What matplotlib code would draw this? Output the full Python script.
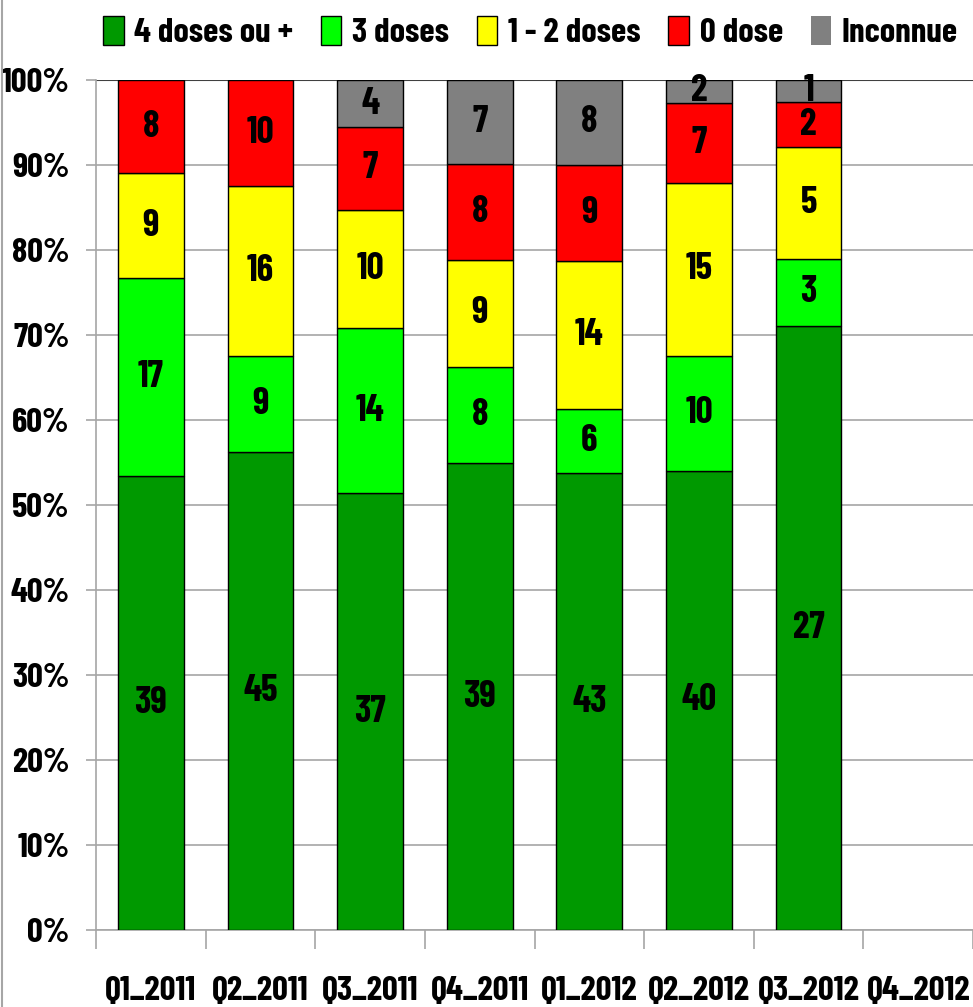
import matplotlib.pyplot as plt
import numpy as np

quarters = ["Q1_2011", "Q2_2011", "Q3_2011", "Q4_2011",
            "Q1_2012", "Q2_2012", "Q3_2012", "Q4_2012"]
doses4 = [39, 45, 37, 39, 43, 40, 27, 0]
doses3 = [17, 9, 14, 8, 6, 10, 3, 0]
doses12 = [9, 16, 10, 9, 14, 15, 5, 0]
doses0 = [8, 10, 7, 8, 9, 7, 2, 0]
inconnue = [0, 0, 4, 7, 8, 2, 1, 0]

series = [("4 doses ou +", doses4, "#009900"),
          ("3 doses", doses3, "#00ff00"),
          ("1 - 2 doses", doses12, "#ffff00"),
          ("0 dose", doses0, "#ff0000"),
          ("Inconnue", inconnue, "#808080")]

plt.rcParams['font.family'] = ['Barlow Condensed', 'Carlito', 'DejaVu Sans']
plt.rcParams['font.weight'] = 'bold'

fig = plt.figure(figsize=(9.73, 10.07), dpi=100)
ax = fig.add_axes([0.0987, 0.0765, 0.9013, 0.8441])

totals = np.array([sum(s[1][i] for s in series) for i in range(len(quarters))], dtype=float)
safe = np.where(totals > 0, totals, 1)
x = np.arange(len(quarters))
bottom = np.zeros(len(quarters))
handles = []
for name, vals, col in series:
    v = np.array(vals, dtype=float)
    pct = v / safe * 100
    lw = np.where(v > 0, 1.0, 0.0)
    b = ax.bar(x, pct, 0.6, bottom=bottom, color=col, edgecolor='black', linewidth=lw, label=name, zorder=3)
    handles.append(b)
    for i in range(len(x)):
        if v[i] > 0:
            ax.text(x[i], bottom[i] + pct[i] / 2, "%d" % v[i], ha='center', va='center',
                    fontsize=27, fontweight='bold', zorder=4)
    bottom += pct

ax.set_xlim(-0.5, len(quarters) - 0.5)
ax.set_ylim(0, 100)
ax.set_yticks(np.arange(0, 101, 10))
ax.set_yticklabels(["%d%%" % t for t in range(0, 101, 10)], fontsize=25, fontweight='bold')
ax.yaxis.grid(True, color='#a6a6a6', linewidth=1.2, zorder=0)
ax.axhline(100, color='#404040', linewidth=1.5, zorder=2)
ax.set_xticks(x)
ax.set_xticklabels(quarters, fontsize=25, fontweight='bold')
ax.tick_params(axis='x', length=0, pad=33)
ax.tick_params(axis='y', length=7, color='#a6a6a6', width=1.2, pad=12)
ax.set_xticks(np.arange(-0.5, len(quarters), 1), minor=True)
ax.tick_params(axis='x', which='minor', length=14, color='#a6a6a6', width=1.2)
for side in ['top', 'right']:
    ax.spines[side].set_visible(False)
ax.spines['bottom'].set_color('#a6a6a6')
ax.spines['bottom'].set_linewidth(1.2)
ax.spines['left'].set_color('#a6a6a6')
ax.spines['left'].set_linewidth(1.2)

fig.legend(handles=handles, loc='center', bbox_to_anchor=(0.545, 0.968), ncol=5,
           frameon=False, handlelength=0.6, handleheight=0.9,
           handletextpad=0.3, columnspacing=0.8, borderaxespad=0,
           prop={'weight': 'bold', 'size': 25})

fig.add_artist(plt.Line2D([0.002, 0.002], [0, 1], color='#a6a6a6', linewidth=1.5))

fig.savefig("out.png", dpi=100)
